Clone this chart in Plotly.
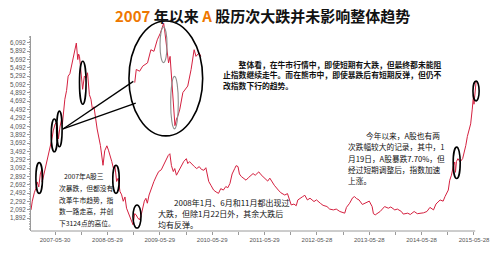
import plotly.graph_objects as go

# ---------------- data ----------------
dates = [
 "2006-12-13","2006-12-22","2007-01-05","2007-01-16","2007-01-25","2007-02-05","2007-02-16","2007-02-26",
 "2007-03-01","2007-03-12","2007-03-28","2007-04-15","2007-04-28","2007-05-08","2007-05-17","2007-05-30",
 "2007-06-10","2007-06-16","2007-06-22","2007-07-03","2007-07-14","2007-07-20","2007-08-06","2007-08-18",
 "2007-08-29","2007-09-10","2007-09-20","2007-10-01","2007-10-13","2007-10-25","2007-11-04","2007-11-10",
 "2007-11-16","2007-11-28","2007-12-08","2007-12-20","2008-01-01","2008-01-11","2008-01-24","2008-02-04",
 "2008-02-14","2008-02-25","2008-03-07","2008-03-18","2008-04-10","2008-04-28","2008-05-10","2008-05-25",
 "2008-06-05","2008-06-17","2008-06-28","2008-07-10","2008-07-20","2008-08-01","2008-08-12","2008-08-24",
 "2008-09-05","2008-09-16","2008-09-28","2008-10-09","2008-10-25","2008-11-12","2008-11-23","2008-12-05",
 "2008-12-15","2008-12-26","2009-01-07","2009-01-18","2009-01-30","2009-02-10","2009-02-21","2009-03-03",
 "2009-03-15","2009-03-30","2009-04-18","2009-05-05","2009-05-21","2009-06-08","2009-06-24","2009-07-10",
 "2009-07-27","2009-08-07","2009-08-18","2009-08-31","2009-09-10","2009-09-22","2009-10-10","2009-10-26",
 "2009-11-12","2009-11-30","2009-12-10","2009-12-22","2010-01-08","2010-01-25","2010-02-10","2010-02-28",
 "2010-03-15","2010-04-01","2010-04-15","2010-05-05","2010-05-20","2010-06-08","2010-06-25","2010-07-12",
 "2010-07-28","2010-08-15","2010-09-01","2010-09-15","2010-09-30","2010-10-15","2010-11-02","2010-11-12",
 "2010-11-25","2010-12-05","2010-12-18","2011-01-05","2011-01-20","2011-02-05","2011-02-23","2011-03-10",
 "2011-03-25","2011-04-19","2011-05-05","2011-06-04","2011-06-20","2011-07-05","2011-07-18","2011-08-05",
 "2011-09-02","2011-09-20","2011-10-17","2011-11-05","2011-12-01","2011-12-20","2012-01-05","2012-01-16",
 "2012-02-19","2012-03-05","2012-03-23","2012-04-10","2012-05-08","2012-05-25","2012-06-21","2012-07-10",
 "2012-08-06","2012-08-25","2012-09-20","2012-10-10","2012-11-04","2012-11-20","2012-12-08","2012-12-20",
 "2013-01-11","2013-02-01","2013-02-14","2013-03-01","2013-03-18","2013-04-10","2013-05-02","2013-05-28",
 "2013-06-17","2013-06-26","2013-07-09","2013-07-25","2013-08-12","2013-09-12","2013-10-08","2013-10-25",
 "2013-11-22","2013-12-10","2014-01-07","2014-01-20","2014-02-20","2014-03-10","2014-04-06","2014-04-28",
 "2014-05-20","2014-06-10","2014-07-04","2014-07-25","2014-08-19","2014-09-05","2014-10-04","2014-10-25",
 "2014-11-07","2014-11-30","2014-12-10","2014-12-22","2015-01-05","2015-01-14","2015-01-19","2015-01-26",
 "2015-02-05","2015-02-20","2015-03-10","2015-03-20","2015-04-01","2015-04-12","2015-04-24","2015-05-05",
 "2015-05-16","2015-05-25","2015-05-28","2015-06-05","2015-06-12"]
index_values = [
 2090,2300,2500,2605,2760,2640,2950,3060,
 2760,2921,3150,3395,3650,3791,3981,4147,
 4194,3910,3791,4076,4266,4150,4740,4950,
 5293,5350,5530,5650,5926,6085,5689,5820,
 5767,5250,4977,5293,5250,5373,4850,4740,
 4503,4560,4266,4028,3632,3158,3506,3625,
 3520,3395,3250,3079,3150,2771,2850,2534,
 2450,2297,2400,2131,2000,1853,1735,2000,
 1972,1900,1853,1950,2131,2300,2368,2250,
 2446,2600,2771,2900,3008,3050,3158,3300,
 3395,3435,3150,3008,3080,2921,3050,3158,
 3250,3317,3200,3246,3180,3127,3080,3127,
 3060,3039,3100,2771,2680,2565,2520,2487,
 2600,2565,2650,2620,2724,2950,3079,3150,
 3127,2950,2890,2850,2802,2860,2921,2960,
 2920,3001,2930,2842,2780,2850,2771,2680,
 2565,2500,2446,2480,2209,2230,2190,2328,
 2408,2440,2328,2370,2290,2330,2249,2200,
 2171,2110,2090,2110,2052,2030,2012,2150,
 2249,2380,2408,2360,2328,2220,2249,2300,
 2171,2000,1972,2020,2052,2170,2131,2160,
 2090,2110,2052,1990,2012,1980,2052,2000,
 2012,2020,2052,2150,2090,2230,2328,2300,
 2408,2565,2800,2921,3150,3238,2990,3250,
 3317,3240,3317,3450,3632,3850,4028,4150,
 4503,4850,4620,4977,5167]

# magnified view of the May-July 2007 drops (inset)
inset_dates = [
 "2007-02-23","2007-02-28","2007-03-11","2007-03-21","2007-04-06","2007-04-17","2007-04-27","2007-05-08",
 "2007-05-18","2007-05-29","2007-06-01","2007-06-05","2007-06-09","2007-06-14","2007-06-19","2007-06-24",
 "2007-06-30","2007-07-05","2007-07-10","2007-07-15","2007-07-21","2007-07-31","2007-08-16","2007-08-27",
 "2007-09-06","2007-09-12","2007-09-22","2007-09-28"]
inset_values = [
 3887,3986,3973,4011,4036,4135,4123,4210,
 4260,4335,4285,4210,4111,4036,4085,3911,
 3762,3562,3612,3637,3687,3812,3861,3986,
 4135,4085,4111,4085]

y_tick_values = [1892 + 200 * i for i in range(22)]
y_tick_labels = [f"{v:,}" for v in y_tick_values]
x_tick_dates = ["2007-05-30","2007-11-28","2008-05-29","2008-11-28","2009-05-29","2009-11-28",
                "2010-05-29","2010-11-28","2011-05-29","2011-11-28","2012-05-28","2012-11-27",
                "2013-05-28","2013-11-27","2014-05-28","2014-11-27","2015-05-28"]
x_tick_labels = ["2007-05-30","","2008-05-29","","2009-05-29","","2010-05-29","","2011-05-29","",
                 "2012-05-28","","2013-05-28","","2014-05-28","","2015-05-28"]

# black ellipses marking the big drops: (start date, end date, low, high)
drop_marks = [
 ("2007-01-16","2007-03-03",2487,3222),
 ("2007-05-03","2007-06-15",3483,4266),
 ("2007-06-10","2007-07-18",3601,4455),
 ("2007-11-16","2008-01-01",4621,5648),
 ("2008-07-05","2008-08-19",2487,3158),
 ("2008-11-23","2009-01-18",1656,2209),
 ("2015-01-03","2015-02-21",2842,3594),
 ("2015-05-21","2015-07-03",4700,5174),
]
inset_marks = [
 ("2007-05-17","2007-06-09",4038,4307),
 ("2007-06-21","2007-07-16",3538,3934),
]

title_html = ("<b><span style='color:#ee7700'>2007</span> 年以来 "
              "<span style='color:#ee7700'>A</span> 股历次大跌并未影响整体趋势</b>")

note_top = ["　　整体看，在牛市行情中，即使短期有大跌，但最终都未能阻",
            "止指数继续走牛。而在熊市中，即使暴跌后有短期反弹，但仍不",
            "改指数下行的趋势。"]
note_2007 = ["2007年A股三", "次暴跌，但都没有", "改革牛市趋势，指", "数一路走高，并创", "下3124点的高位。"]
note_2008 = ["2008年1月、6月和11月都出现过", "大跌，但除1月22日外，其余大跌后", "均有反弹。"]
note_2015 = ["今年以来，A股也有两", "次跌幅较大的记录，其中，1", "月19日，A股暴跌7.70%，但",
             "经过短期调整后，指数加速", "上涨。"]

# ---------------- figure ----------------
W, H = 500, 253
ML, MR, MT, MB = 25, 10, 18, 20
PW, PH = W - ML - MR, H - MT - MB

def px(x):
    return (x - ML) / PW

def py(y):
    return (H - MB - y) / PH

RED = "#d4203f"
CJK = "Noto Sans CJK SC"

fig = go.Figure()
fig.add_trace(go.Scatter(x=dates, y=index_values, mode="lines",
                         line=dict(color=RED, width=1.0), hoverinfo="skip", showlegend=False))
fig.add_trace(go.Scatter(x=inset_dates, y=inset_values, mode="lines", xaxis="x2", yaxis="y2",
                         line=dict(color=RED, width=1.0), hoverinfo="skip", showlegend=False))

shapes = []
for d0, d1, lo, hi in drop_marks:
    shapes.append(dict(type="circle", xref="x", yref="y", x0=d0, x1=d1, y0=lo, y1=hi,
                       line=dict(color="black", width=1.6)))
for d0, d1, lo, hi in inset_marks:
    shapes.append(dict(type="circle", xref="x2", yref="y2", x0=d0, x1=d1, y0=lo, y1=hi,
                       line=dict(color="#8c8c8c", width=1.1)))
# magnifier ellipse and connectors
shapes.append(dict(type="circle", xref="paper", yref="paper", x0=px(126), x1=px(202),
                   y0=py(137), y1=py(21), line=dict(color="black", width=1.6)))
shapes.append(dict(type="line", xref="paper", yref="paper", x0=px(58), y0=py(130),
                   x1=px(130.5), y1=py(82), line=dict(color="black", width=1.3)))
shapes.append(dict(type="line", xref="paper", yref="paper", x0=px(58), y0=py(130),
                   x1=px(133), y1=py(104), line=dict(color="black", width=1.3)))
# x axis line
shapes.append(dict(type="line", xref="paper", yref="paper", x0=0, x1=px(483), y0=0, y1=0,
                   line=dict(color="#9a9a9a", width=1)))

ann = []
ann.append(dict(text=title_html, x=px(264), y=py(15), xref="paper", yref="paper",
                xanchor="center", yanchor="middle", showarrow=False,
                font=dict(family=CJK, size=15, color="#111")))

def add_lines(lines, lefts, ys, size, bold=False):
    for t, xl, yy in zip(lines, lefts, ys):
        txt = f"<b>{t}</b>" if bold else t
        ann.append(dict(text=txt, x=px(xl), y=py(yy), xref="paper", yref="paper",
                        xanchor="left", yanchor="middle", showarrow=False,
                        font=dict(family=CJK, size=size, color="#111")))

add_lines(note_top, [221, 221, 221], [65, 75.5, 86], 7.8, bold=True)
add_lines(note_2007, [57, 51.5, 51.5, 51.5, 51.5], [177.5, 189.5, 201.3, 213, 224.5], 6.8)
add_lines(note_2008, [170.5, 154, 154], [204, 215, 226.5], 8)
add_lines(note_2015, [368, 350, 350, 350, 350], [136.7, 147.7, 159.5, 171, 182], 7.7)

fig.update_layout(
    width=W, height=H, margin=dict(l=ML, r=MR, t=MT, b=MB),
    paper_bgcolor="white", plot_bgcolor="white",
    shapes=shapes, annotations=ann, showlegend=False,
    xaxis=dict(type="date", range=["2006-12-13", "2015-07-23"], showgrid=False, zeroline=False,
               showline=False, tickmode="array", tickvals=x_tick_dates, ticktext=x_tick_labels,
               ticks="outside", ticklen=3, tickcolor="#9a9a9a", tickwidth=1,
               tickfont=dict(family="Liberation Sans", size=6, color="#555"), fixedrange=True),
    yaxis=dict(range=[1585, 6258], domain=[0, py(36)], showgrid=False, zeroline=False,
               showline=True, linecolor="#9a9a9a", linewidth=1,
               tickmode="array", tickvals=y_tick_values, ticktext=y_tick_labels,
               ticks="outside", ticklen=3, tickcolor="#9a9a9a",
               minor=dict(tickmode="linear", tick0=1892, dtick=40, ticks="outside",
                          ticklen=1.5, tickcolor="#b5b5b5"),
               tickfont=dict(family="Liberation Sans", size=6.3, color="#555"), fixedrange=True),
    xaxis2=dict(type="date", domain=[px(126), px(202)], range=["2007-02-04", "2007-10-04"],
                anchor="y2", visible=False, fixedrange=True),
    yaxis2=dict(domain=[py(137), py(21)], range=[3485, 4352], anchor="x2", visible=False,
                fixedrange=True),
)

fig.write_html("out.html")
